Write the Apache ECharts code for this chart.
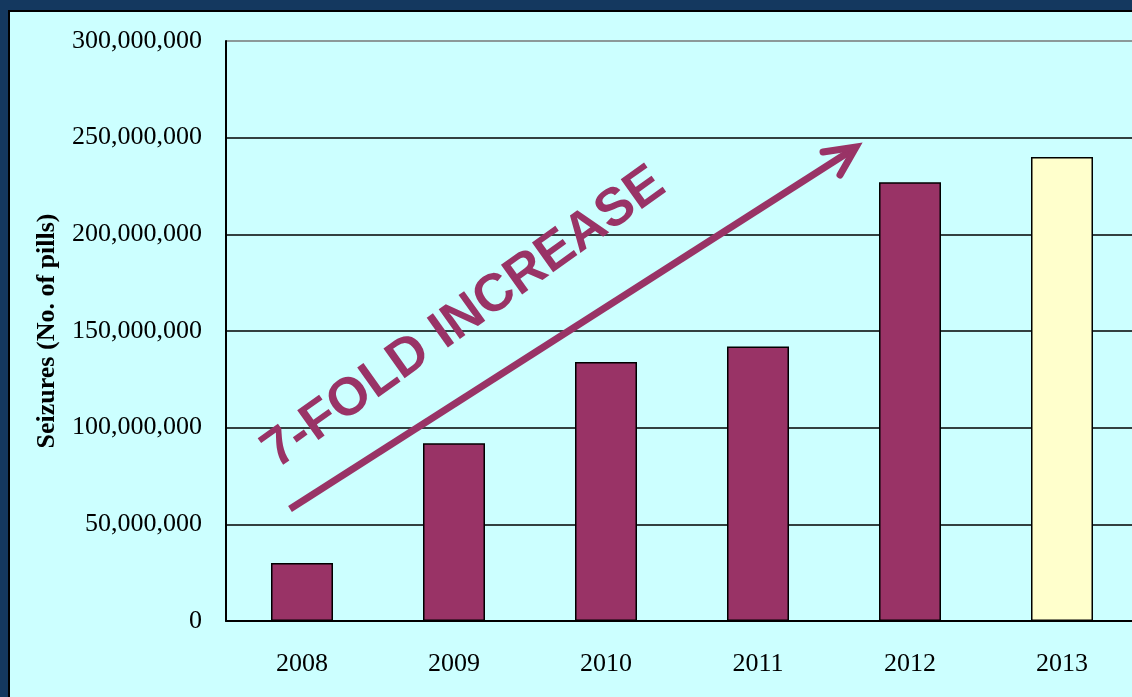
<!DOCTYPE html>
<html>
<head>
<meta charset="utf-8">
<title>Seizures (No. of pills)</title>
<script src="https://cdn.jsdelivr.net/npm/echarts@6/dist/echarts.min.js"></script>
<style>
  html, body { margin: 0; padding: 0; background: #CCFFFF; }
  #chart { width: 1132px; height: 697px; }
</style>
</head>
<body>
<div id="chart"></div>
<script>
// Annual pill seizures by year
const years = ['2008', '2009', '2010', '2011', '2012', '2013'];
const seizures = [30000000, 92000000, 134000000, 142000000, 227000000, 240000000];
const highlightYear = '2013';

// Value axis range
const yMin = 0;
const yMax = 300000000;
const yStep = 50000000;

const yTitle = 'Seizures (No. of pills)';
const trendText = '7-FOLD INCREASE';

const BAR = '#993366';
const BAR_HIGHLIGHT = '#FFFFCC';
const NAVY = '#14385F';

const barData = seizures.map((v, i) => ({
  value: v,
  itemStyle: { color: years[i] === highlightYear ? BAR_HIGHLIGHT : BAR }
}));

const chart = echarts.init(document.getElementById('chart'), null, { renderer: 'canvas' });

const deg = Math.PI / 180;

chart.setOption({
  backgroundColor: '#CCFFFF',
  animation: false,
  // plot runs past the right edge of the slide
  grid: { left: 226, top: 41, width: 912, height: 580, outerBoundsMode: 'none', containLabel: false },
  xAxis: {
    type: 'category',
    data: years,
    axisLine: { show: true, lineStyle: { color: '#000', width: 2 } },
    axisTick: { show: false },
    axisLabel: {
      margin: 30,
      color: '#000',
      fontFamily: '"Liberation Serif", "Times New Roman", serif',
      fontSize: 26
    },
    splitLine: { show: false }
  },
  yAxis: {
    type: 'value',
    min: yMin,
    max: yMax,
    interval: yStep,
    name: yTitle,
    nameLocation: 'middle',
    nameRotate: 90,
    nameGap: 166,
    nameTextStyle: {
      color: '#000',
      fontFamily: '"Liberation Serif", "Times New Roman", serif',
      fontWeight: 'bold',
      fontSize: 26
    },
    axisLine: { show: true, lineStyle: { color: '#000', width: 2 } },
    axisTick: { show: false },
    axisLabel: {
      margin: 24,
      color: '#000',
      fontFamily: '"Liberation Serif", "Times New Roman", serif',
      fontSize: 26,
      formatter: v => v.toLocaleString('en-US')
    },
    splitLine: {
      show: true,
      lineStyle: {
        color: ['#000', '#000', '#000', '#000', '#000', '#000', '#777'],
        width: 1.5
      }
    }
  },
  series: [{
    type: 'bar',
    data: barData,
    barWidth: 62,
    itemStyle: { borderColor: '#000', borderWidth: 1.5 }
  }],
  graphic: [
    // slide frame: navy band with a thin dark rule on top and left
    { type: 'rect', shape: { x: 0, y: 0, width: 1132, height: 10 }, style: { fill: NAVY }, z: 100 },
    { type: 'rect', shape: { x: 0, y: 0, width: 8, height: 697 }, style: { fill: NAVY }, z: 100 },
    { type: 'rect', shape: { x: 8, y: 10, width: 1124, height: 2 }, style: { fill: '#000' }, z: 100 },
    { type: 'rect', shape: { x: 8, y: 10, width: 2, height: 687 }, style: { fill: '#000' }, z: 100 },
    // trend arrow
    {
      type: 'line',
      shape: { x1: 290, y1: 509, x2: 855, y2: 148 },
      style: { stroke: BAR, lineWidth: 7, lineCap: 'butt' },
      z: 50
    },
    {
      type: 'polyline',
      shape: { points: [[823, 152], [856, 147], [840, 175]] },
      style: { stroke: BAR, fill: null, lineWidth: 7, lineCap: 'round', lineJoin: 'miter' },
      z: 50
    },
    // trend caption
    {
      type: 'text',
      x: 464,
      y: 318,
      rotation: 35.5 * deg,
      style: {
        text: trendText,
        font: 'bold 53px "Liberation Sans", Arial, sans-serif',
        fill: BAR,
        textAlign: 'center',
        textVerticalAlign: 'middle',
        align: 'center',
        verticalAlign: 'middle'
      },
      z: 50
    }
  ]
});
</script>
</body>
</html>
